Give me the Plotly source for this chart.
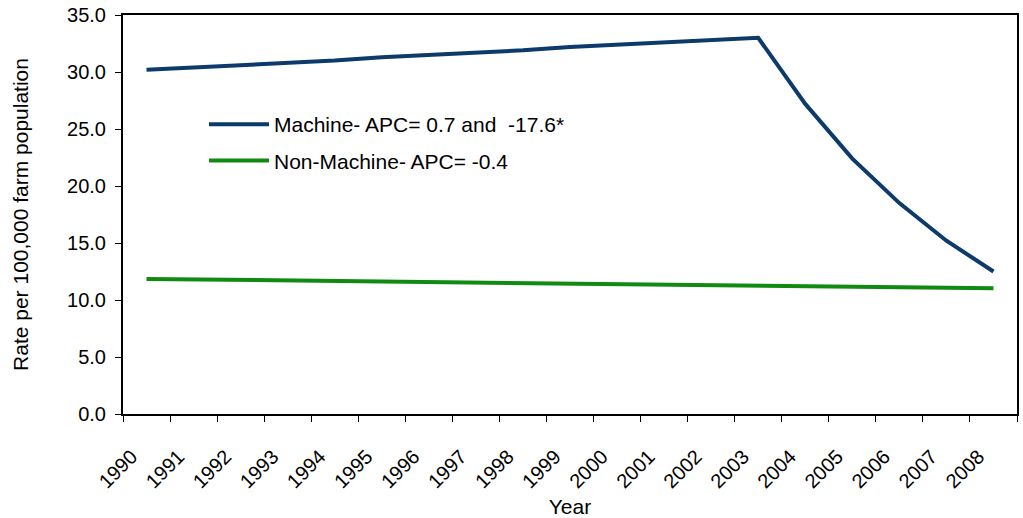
import plotly.graph_objects as go

years = [str(y) for y in range(1990, 2009)]
machine = [30.2, 30.4, 30.6, 30.8, 31.0, 31.3, 31.5, 31.7, 31.9, 32.2, 32.4, 32.6, 32.8, 33.0,
           27.2, 22.4, 18.5, 15.2, 12.5]
non_machine = [11.85, 11.80, 11.76, 11.71, 11.66, 11.62, 11.57, 11.52, 11.48, 11.43,
               11.39, 11.34, 11.30, 11.25, 11.21, 11.16, 11.12, 11.07, 11.03]
y_ticks = [0, 5, 10, 15, 20, 25, 30, 35]

FONT = "Liberation Sans, Arial, sans-serif"

fig = go.Figure()
fig.add_trace(go.Scatter(x=years, y=machine, mode="lines",
                         name="Machine- APC= 0.7 and \u00a0-17.6*",
                         line=dict(color="#0B3A6B", width=4), legendgroup="a"))
fig.add_trace(go.Scatter(x=years, y=non_machine, mode="lines",
                         name="Non-Machine- APC= -0.4",
                         line=dict(color="#118A11", width=4), legendgroup="b"))

fig.update_layout(
    width=1023, height=518,
    margin=dict(l=123, r=6, t=15, b=104),
    paper_bgcolor="white", plot_bgcolor="white",
    font=dict(family=FONT, size=20, color="black"),
    showlegend=True,
    legend=dict(x=0.0906, y=0.777, xanchor="left", yanchor="top",
                bgcolor="rgba(0,0,0,0)", font=dict(size=21),
                itemwidth=60, tracegroupgap=6),
    xaxis=dict(type="category", range=[-0.5, 18.5], tickson="boundaries",
               ticks="outside", ticklen=6, tickcolor="black", tickangle=-45,
               ticklabelstandoff=21, ticklabelshift=-15, automargin=False,
               showline=True, linecolor="black", linewidth=2, mirror=True,
               showgrid=False, zeroline=False,
               title=dict(text="Year", standoff=8, font=dict(size=21))),
    yaxis=dict(range=[0, 35], tickvals=y_ticks, tickformat=".1f",
               ticks="outside", ticklen=6, tickcolor="black",
               ticklabelstandoff=5, ticklabeloverflow="allow", automargin=False,
               showline=True, linecolor="black", linewidth=2, mirror=True,
               showgrid=False, zeroline=False,
               title=dict(text="Rate per 100,000 farm population", standoff=33,
                          font=dict(size=21))),
)

fig.write_html("out.html", config={"displayModeBar": False},
               post_script="document.body.style.margin='0';document.body.style.overflow='hidden';")
